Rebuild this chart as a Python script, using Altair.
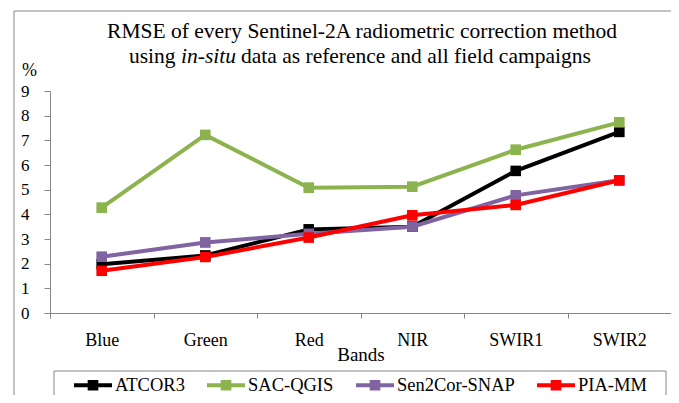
import altair as alt
import pandas as pd

# ---- data ----
bands = ["Blue", "Green", "Red", "NIR", "SWIR1", "SWIR2"]
methods = ["ATCOR3", "SAC-QGIS", "Sen2Cor-SNAP", "PIA-MM"]
atcor3 = [1.98, 2.33, 3.39, 3.50, 5.76, 7.34]
sac_qgis = [4.27, 7.22, 5.08, 5.12, 6.62, 7.73]
sen2cor_snap = [2.28, 2.86, 3.21, 3.50, 4.77, 5.38]
pia_mm = [1.71, 2.27, 3.06, 3.96, 4.38, 5.38]
y_ticks = [0, 1, 2, 3, 4, 5, 6, 7, 8, 9]

colors = ["#000000", "#8DB34F", "#8064A2", "#FF0000"]
FONT = "Liberation Serif"
GREY = "#868686"

series = [atcor3, sac_qgis, sen2cor_snap, pia_mm]
rows = []
for m, vals in zip(methods, series):
    for b, v in zip(bands, vals):
        rows.append({"Band": b, "Method": m, "RMSE": v})
df = pd.DataFrame(rows)

x_enc = alt.X(
    "Band:N",
    sort=bands,
    scale=alt.Scale(type="band", paddingInner=0, paddingOuter=0),
    axis=alt.Axis(
        title="Bands",
        tickBand="extent",
        labelAngle=0,
        labelFont=FONT,
        labelFontSize=18,
        labelColor="#000000",
        labelBaseline="alphabetic",
        labelPadding=27,
        tickSize=5,
        tickColor=GREY,
        domainColor=GREY,
        titleFont=FONT,
        titleFontSize=19,
        titleFontWeight="normal",
        titleColor="#000000",
        titleBaseline="alphabetic",
        titleY=47,
    ),
)
y_enc = alt.Y(
    "RMSE:Q",
    scale=alt.Scale(domain=[0, 9], nice=False),
    axis=alt.Axis(
        title=None,
        values=y_ticks,
        grid=False,
        labelFont=FONT,
        labelFontSize=17,
        labelColor="#000000",
        labelPadding=15,
        tickSize=6,
        tickColor=GREY,
        domainColor=GREY,
    ),
)
color_scale = alt.Scale(domain=methods, range=colors)

layers = []
# frame
one = alt.Data(values=[{}])
layers.append(alt.Chart(one).mark_rule(color=GREY, strokeWidth=1).encode(
    x=alt.value(-36), y=alt.value(-80), y2=alt.value(400)))
layers.append(alt.Chart(one).mark_rule(color=GREY, strokeWidth=1).encode(
    x=alt.value(-36), x2=alt.value(700), y=alt.value(-80)))
# legend box
layers.append(alt.Chart(one).mark_rect(fillOpacity=0, stroke=GREY, strokeWidth=1).encode(
    x=alt.value(4), x2=alt.value(616), y=alt.value(280), y2=alt.value(420)))

# legend layer (fill channel), drawn underneath the real markers
legend_path = "M-1,-0.1H1V0.1H-1Z M-0.28,-0.28H0.28V0.28H-0.28Z"
layers.append(alt.Chart(df).mark_point(shape="square", filled=True, size=100, opacity=1).encode(
    x=x_enc, y=y_enc,
    fill=alt.Fill(
        "Method:N", scale=alt.Scale(domain=methods, range=colors), sort=methods,
        legend=alt.Legend(
            title=None, orient="none", direction="horizontal",
            legendX=24, legendY=275, padding=0,
            columnPadding=22, labelOffset=3,
            symbolType=legend_path, symbolSize=1444, symbolStrokeWidth=0,
            symbolOpacity=1,
            labelFont=FONT, labelFontSize=18.5, labelColor="#000000",
            labelBaseline="middle", labelLimit=300,
        ),
    ),
))

for m in methods:
    base = alt.Chart(df).transform_filter(alt.datum.Method == m)
    layers.append(base.mark_line(strokeWidth=4).encode(
        x=x_enc, y=y_enc,
        color=alt.Color("Method:N", scale=color_scale, legend=None)))
    layers.append(base.mark_point(shape="square", filled=True, size=110, opacity=1).encode(
        x=x_enc, y=y_enc,
        color=alt.Color("Method:N", scale=color_scale, legend=None)))

# title and % label
TS = 21.5
layers.append(alt.Chart(one).mark_text(
    text="RMSE of every Sentinel-2A radiometric correction method",
    font=FONT, fontSize=TS, align="center", baseline="alphabetic", color="#000000",
).encode(x=alt.value(312), y=alt.value(-53)))
layers.append(alt.Chart(one).mark_text(
    text="using", font=FONT, fontSize=TS, align="left", baseline="alphabetic", color="#000000",
).encode(x=alt.value(79), y=alt.value(-28)))
layers.append(alt.Chart(one).mark_text(
    text="in-situ", font=FONT, fontSize=TS, fontStyle="italic", align="left",
    baseline="alphabetic", color="#000000",
).encode(x=alt.value(131), y=alt.value(-28)))
layers.append(alt.Chart(one).mark_text(
    text="data as reference and all field campaigns", font=FONT, fontSize=TS,
    align="left", baseline="alphabetic", color="#000000",
).encode(x=alt.value(191), y=alt.value(-28)))
layers.append(alt.Chart(one).mark_text(
    text="%", font=FONT, fontSize=18, align="left", baseline="alphabetic", color="#000000",
).encode(x=alt.value(-28), y=alt.value(-15)))

chart = alt.layer(*layers).properties(
    width=621,
    height=222,
    autosize=alt.AutoSizeParams(type="none"),
    padding={"left": 42, "top": 83, "right": 0, "bottom": 82},
    background="#FFFFFF",
).configure_view(stroke=None)

chart.save("out.html", embed_options={"renderer": "svg", "actions": False})
